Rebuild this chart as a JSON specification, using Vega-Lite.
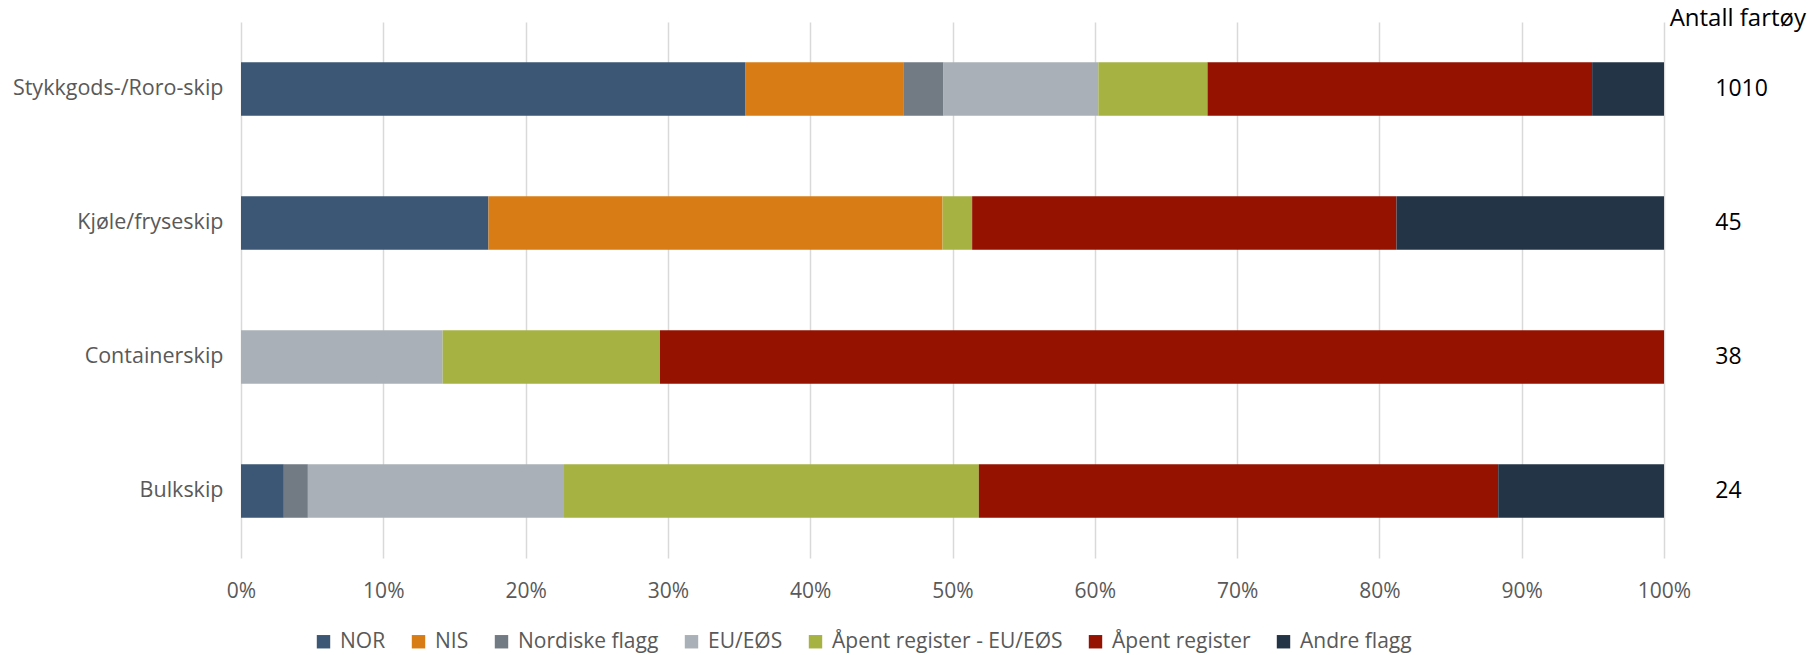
{
  "$schema": "https://vega.github.io/schema/vega-lite/v6.json",
  "autosize": {"type": "none"},
  "width": 1423,
  "height": 536,
  "padding": {"left": 241, "top": 22, "right": 150, "bottom": 97},
  "background": "white",
  "title": {
    "text": "Antall fartøy",
    "anchor": "end",
    "frame": "group",
    "orient": "top",
    "baseline": "middle",
    "offset": 0,
    "dx": 142,
    "dy": 21,
    "font": "Open Sans",
    "fontSize": 24,
    "fontWeight": "normal",
    "color": "#000000"
  },
  "datasets": {
    "bars": [
      {"type": "Stykkgods-/Roro-skip", "flagg": "NOR", "ord": 1, "pct": 35.46},
      {"type": "Stykkgods-/Roro-skip", "flagg": "NIS", "ord": 2, "pct": 11.08},
      {"type": "Stykkgods-/Roro-skip", "flagg": "Nordiske flagg", "ord": 3, "pct": 2.83},
      {"type": "Stykkgods-/Roro-skip", "flagg": "EU/EØS", "ord": 4, "pct": 10.88},
      {"type": "Stykkgods-/Roro-skip", "flagg": "Åpent register - EU/EØS", "ord": 5, "pct": 7.67},
      {"type": "Stykkgods-/Roro-skip", "flagg": "Åpent register", "ord": 6, "pct": 27.03},
      {"type": "Stykkgods-/Roro-skip", "flagg": "Andre flagg", "ord": 7, "pct": 5.05},
      {"type": "Kjøle/fryseskip", "flagg": "NOR", "ord": 1, "pct": 17.39},
      {"type": "Kjøle/fryseskip", "flagg": "NIS", "ord": 2, "pct": 31.91},
      {"type": "Kjøle/fryseskip", "flagg": "Åpent register - EU/EØS", "ord": 5, "pct": 2.08},
      {"type": "Kjøle/fryseskip", "flagg": "Åpent register", "ord": 6, "pct": 29.82},
      {"type": "Kjøle/fryseskip", "flagg": "Andre flagg", "ord": 7, "pct": 18.8},
      {"type": "Containerskip", "flagg": "EU/EØS", "ord": 4, "pct": 14.17},
      {"type": "Containerskip", "flagg": "Åpent register - EU/EØS", "ord": 5, "pct": 15.27},
      {"type": "Containerskip", "flagg": "Åpent register", "ord": 6, "pct": 70.56},
      {"type": "Bulkskip", "flagg": "NOR", "ord": 1, "pct": 3.01},
      {"type": "Bulkskip", "flagg": "Nordiske flagg", "ord": 3, "pct": 1.69},
      {"type": "Bulkskip", "flagg": "EU/EØS", "ord": 4, "pct": 18.0},
      {"type": "Bulkskip", "flagg": "Åpent register - EU/EØS", "ord": 5, "pct": 29.15},
      {"type": "Bulkskip", "flagg": "Åpent register", "ord": 6, "pct": 36.5},
      {"type": "Bulkskip", "flagg": "Andre flagg", "ord": 7, "pct": 11.65}
    ],
    "counts": [
      {"type": "Stykkgods-/Roro-skip", "antall": 1010},
      {"type": "Kjøle/fryseskip", "antall": 45},
      {"type": "Containerskip", "antall": 38},
      {"type": "Bulkskip", "antall": 24}
    ]
  },
  "config": {
    "view": {"stroke": null},
    "font": "Open Sans"
  },
  "resolve": {"scale": {"x": "independent"}, "axis": {"x": "independent"}},
  "layer": [
    {
      "data": {"name": "bars"},
      "mark": {"type": "bar"},
      "encoding": {
        "y": {
          "field": "type",
          "type": "nominal",
          "sort": ["Stykkgods-/Roro-skip", "Kjøle/fryseskip", "Containerskip", "Bulkskip"],
          "scale": {"paddingInner": 0.6, "paddingOuter": 0.3},
          "axis": {
            "title": null,
            "domain": false,
            "ticks": false,
            "labelFont": "Open Sans",
            "labelFontSize": 21.5,
            "labelColor": "#595959",
            "labelPadding": 18,
            "labelLimit": 400
          }
        },
        "x": {
          "field": "pct",
          "type": "quantitative",
          "stack": "normalize",
          "scale": {"domain": [0, 1], "nice": false},
          "axis": {
            "title": null,
            "format": ".0%",
            "values": [0, 0.1, 0.2, 0.3, 0.4, 0.5, 0.6, 0.7, 0.8, 0.9, 1],
            "domain": false,
            "ticks": false,
            "grid": true,
            "gridColor": "#d9d9d9",
            "gridWidth": 1.5,
            "labelFont": "Open Sans",
            "labelFontSize": 21,
            "labelColor": "#595959",
            "labelPadding": 22,
            "labelOverlap": false,
            "labelFlush": false
          }
        },
        "order": {"field": "ord", "type": "quantitative"},
        "color": {
          "field": "flagg",
          "type": "nominal",
          "scale": {
            "domain": ["NOR", "NIS", "Nordiske flagg", "EU/EØS", "Åpent register - EU/EØS", "Åpent register", "Andre flagg"],
            "range": ["#3B5775", "#D87D15", "#727A83", "#AAB0B7", "#A6B242", "#951200", "#233447"]
          },
          "legend": {
            "title": null,
            "orient": "none",
            "direction": "horizontal",
            "legendX": 72,
            "legendY": 609,
            "symbolType": "square",
            "symbolSize": 180,
            "symbolStrokeWidth": 0,
            "labelFont": "Open Sans",
            "labelFontSize": 21,
            "labelColor": "#595959",
            "labelLimit": 400,
            "labelOffset": 6,
            "columnPadding": 22
          }
        }
      }
    },
    {
      "data": {"name": "counts"},
      "mark": {"type": "text", "font": "Open Sans", "fontSize": 23, "color": "#000000", "align": "left", "baseline": "middle"},
      "encoding": {
        "y": {
          "field": "type",
          "type": "nominal",
          "sort": ["Stykkgods-/Roro-skip", "Kjøle/fryseskip", "Containerskip", "Bulkskip"]
        },
        "x": {"datum": 1.036, "type": "quantitative", "scale": {"domain": [0, 1], "nice": false}, "axis": null},
        "text": {"field": "antall", "type": "quantitative"}
      }
    }
  ]
}
